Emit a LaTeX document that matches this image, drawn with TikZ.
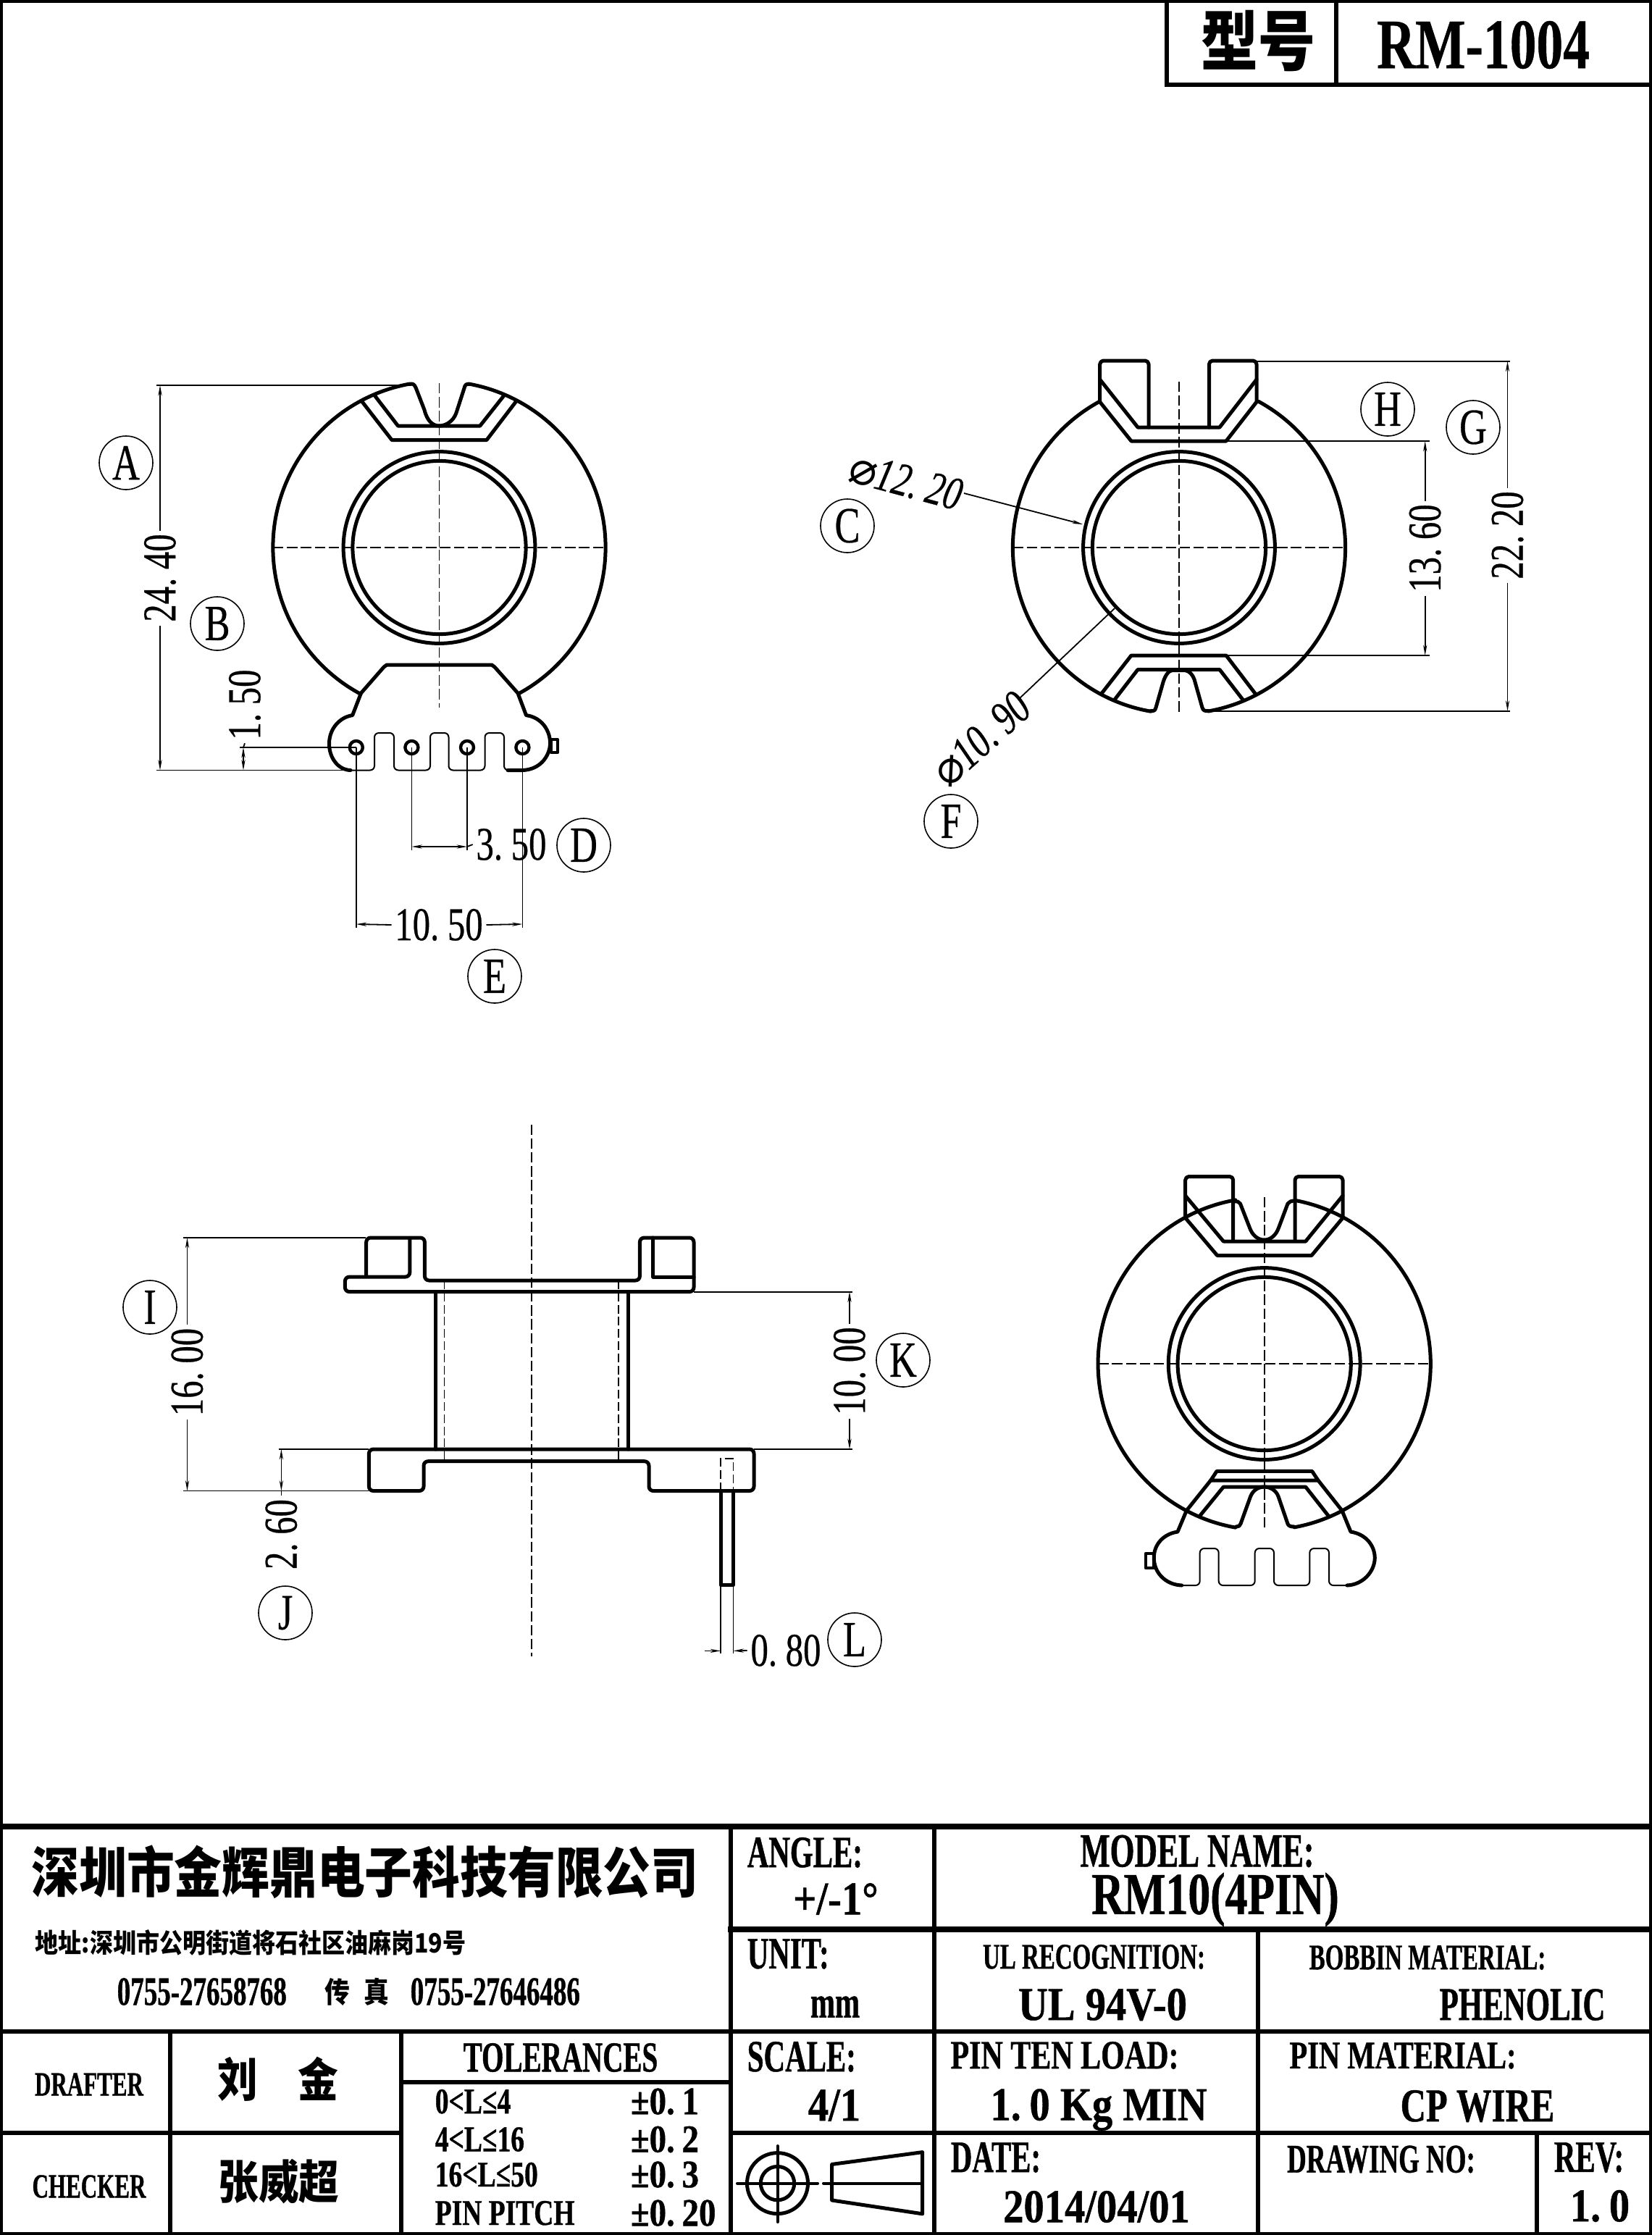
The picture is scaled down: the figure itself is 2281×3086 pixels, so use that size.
\documentclass[tikz,border=0pt]{standalone}
\usepackage{fontspec}
\usetikzlibrary{arrows.meta}
\newfontfamily\dimfont[FakeStretch=0.75,FakeBold=0.4]{Liberation Serif}
\newfontfamily\tblfont[FakeStretch=0.66,FakeBold=0.7]{Liberation Serif}
\newfontfamily\tblmid[FakeStretch=0.75,FakeBold=0.7]{Liberation Serif}
\newfontfamily\tblnum[FakeStretch=0.87,FakeBold=0.7]{Liberation Serif}
\newfontfamily\cjk[FakeStretch=0.87]{Noto Sans CJK SC}
\newfontfamily\symfont{DejaVu Sans}
\newcommand{\fsz}[1]{\fontsize{#1}{#1}\selectfont}
\newcommand{\dimnum}[2]{#1.\kern0.18em #2}
\begin{document}
\begin{tikzpicture}[
                x=0.25pt, y=-0.25pt,
                every node/.style={inner sep=1pt},
                outline/.style={line width=1.25pt, line cap=round, line join=round},
                combline/.style={line width=0.5pt},
                dimline/.style={line width=0.45pt},
                hidden/.style={line width=0.4pt, dash pattern=on 3pt off 1.2pt},
                centerdash/.style={line width=0.45pt, dash pattern=on 3.6pt off 1.2pt},
                dimtip/.style={-{Stealth[length=3.6pt,width=1.3pt]}},
                dimtips/.style={{Stealth[length=3.6pt,width=1.3pt]}-{Stealth[length=3.6pt,width=1.3pt]}},
                dimtext/.style={font=\dimfont\fsz{16.25}},
                callout/.style={circle, draw, line width=0.4pt, minimum size=18.5pt, inner sep=0pt, font=\dimfont\fsz{17.5}},
                pinhole/.style={circle, draw, line width=1.1pt, minimum size=4.5pt, inner sep=0pt},
                rule/.style={line width=1.5pt},
                tblhead/.style={font=\tblfont\bfseries\fsz{15.5}},
                tblsmall/.style={font=\tblfont\bfseries\fsz{12.5}},
                tblmidsmall/.style={font=\tblmid\bfseries\fsz{13.5}},
                tblvalue/.style={font=\tblfont\bfseries\fsz{16.25}},
                tblmidvalue/.style={font=\tblmid\bfseries\fsz{16.25}},
                tblnumvalue/.style={font=\tblnum\bfseries\fsz{16.25}},
                limitcell/.style={font=\tblmid\bfseries\fsz{12.5}, anchor=west},
                tolcell/.style={font=\tblnum\bfseries\fsz{13.5}, anchor=west}
            ]
                \path[fill=white, use as bounding box] (0,0) rectangle (2281,3086);
                \def\rimrad{57.4pt}

                % Centres of the three round views
                \coordinate (cenA) at (606.5,756);
                \coordinate (cenB) at (1628,756);
                \coordinate (cenD) at (1745.7,1883);
                \foreach \cen in {cenA,cenB,cenD} {
                    \draw[outline] (\cen) circle[radius=33.1pt];
                    \draw[outline] (\cen) circle[radius=29.9pt];
                    \draw[centerdash] (\cen) ++(-\rimrad,0) -- ++(114.8pt,0);
                }

                % Top left view
                \draw[outline] (cenA) ++(100.2:\rimrad) arc[start angle=100.2, end angle=241.8, radius=\rimrad];
                \draw[outline] (cenA) ++(-61.4:\rimrad) arc[start angle=-61.4, end angle=79.8, radius=\rimrad];
                \draw[outline] (566,530.5) .. controls (570,529) and (572,531) .. (574,535) -- (586,566) .. controls (590,582) and (598,588) .. (606.5,588) .. controls (615,588) and (626,582) .. (630,570) -- (641,536) .. controls (642,531) and (644,530) .. (647.5,530.5);
                \draw[outline] (499.5,554) -- (541,607.5) -- (672,607.5) -- (712.8,554);
                \draw[outline] (518,547) -- (549.5,588) -- (662.8,588) -- (696,546);
                \draw[outline] (484,1063.5) .. controls (466,1063) and (454,1045) .. (454.5,1026) .. controls (455,1005) and (470,990) .. (486.7,987.6) -- (498.5,957) -- (530,921) -- (534,918) -- (679,918) -- (683,921) -- (715,957) -- (726.5,987.6) .. controls (745,990) and (759,1005) .. (759.7,1026) .. controls (759,1045) and (745,1063) .. (721,1063.5) -- (701,1063.5);
                \draw[combline, rounded corners=1.5pt] (484,1063.5) -- (517,1063.5) -- (517,1012) -- (544,1012) -- (544,1063.5) -- (594,1063.5) -- (594,1012) -- (619.5,1012) -- (619.5,1063.5) -- (669.5,1063.5) -- (669.5,1012) -- (696,1012) -- (696,1063.5) -- (705,1063.5);
                \draw[outline, line width=1pt] (760.7,1021) rectangle (770,1039);
                \foreach \i/\hx in {1/491.8,2/568.4,3/645,4/721.4} {
                    \node[pinhole] (hole\i) at (\hx,1032) {};
                }
                \draw[centerdash] (606.5,529) -- (606.5,977);

                % Dimensions of the top left view
                \node[dimtext, rotate=90] (dimA) at (221,798) {\dimnum{24}{40}};
                \draw[dimline] (216,532) -- (566,532);
                \draw[dimline] (216,1063.5) -- (487,1063.5);
                \draw[dimline, dimtip] (dimA.east) -- (221,532);
                \draw[dimline, dimtip] (dimA.west) -- (221,1063.5);
                \node[dimtext, rotate=90] (dimB) at (338,973) {\dimnum{1}{50}};
                \draw[dimline] (331,1032) -- (hole1.center);
                \draw[dimline] (dimB.west) -- (336,1032);
                \draw[dimline, dimtips] (336,1032) -- (336,1063.5);
                \node[dimtext] (dimD) at (706,1166) {\dimnum{3}{50}};
                \draw[dimline] (hole2.center) -- (568.4,1174);
                \draw[dimline] (hole3.center) -- (645,1174);
                \draw[dimline, dimtips] (568.4,1169) -- (645,1169);
                \draw[dimline] (645,1169) -- (dimD.west);
                \node[dimtext] (dimE) at (606,1277) {\dimnum{10}{50}};
                \draw[dimline] (hole1.center) -- (491.8,1281);
                \draw[dimline] (hole4.center) -- (721.4,1281);
                \draw[dimline, dimtip] (dimE.west) -- (491.8,1276);
                \draw[dimline, dimtip] (dimE.east) -- (721.4,1276);

                % Top right view
                \draw[outline] (cenB) ++(118.5:\rimrad) arc[start angle=118.5, end angle=260.2, radius=\rimrad];
                \draw[outline] (cenB) ++(-79.8:\rimrad) arc[start angle=-79.8, end angle=61.5, radius=\rimrad];
                \draw[outline, rounded corners=1.2pt] (1518.7,555) -- (1518.7,498) -- (1586,498) -- (1586,590);
                \draw[outline, rounded corners=1.2pt] (1669.5,590) -- (1669.5,498) -- (1735,498) -- (1735,555);
                \draw[outline] (1518.7,555) -- (1562,609) -- (1693,609) -- (1735,555);
                \draw[outline] (1518.7,524) -- (1571,590) -- (1684,590) -- (1735,524);
                \draw[outline] (1521,957.5) -- (1562,905) -- (1693,905) -- (1733,957.5);
                \draw[outline] (1539,966) -- (1571,924.5) -- (1684,924.5) -- (1716,966);
                \draw[outline] (1589,981.6) .. controls (1593,982) and (1595,981) .. (1596,977) -- (1606,942) .. controls (1609,932) and (1614,925.5) .. (1619,925.5) -- (1636,925.5) .. controls (1642,926) and (1647,932) .. (1649,938) -- (1660,977) .. controls (1661,981) and (1664,982) .. (1668,981.6);
                \draw[centerdash] (1628,526.5) -- (1628,986);

                % Dimensions of the top right view
                \node[dimtext, rotate=90] (dimG) at (2081.5,739) {\dimnum{22}{20}};
                \draw[dimline] (1735,498.8) -- (2085,498.8);
                \draw[dimline] (1668,981.6) -- (2085,981.6);
                \draw[dimline, dimtip] (dimG.east) -- (2081.5,498.8);
                \draw[dimline, dimtip] (dimG.west) -- (2081.5,981.6);
                \node[dimtext, rotate=90] (dimH) at (1967.7,757) {\dimnum{13}{60}};
                \draw[dimline] (1693,609) -- (1974,609);
                \draw[dimline] (1693,905) -- (1974,905);
                \draw[dimline, dimtip] (dimH.east) -- (1967.7,609);
                \draw[dimline, dimtip] (dimH.west) -- (1967.7,905);
                \node[dimtext, rotate=-15] (dimC) at (1250,664) {\itshape{\symfont\fsz{16}⌀}\dimnum{12}{20}};
                \draw[dimline, dimtip] (1331,681) -- (1495,724);
                \node[dimtext, rotate=42] (dimF) at (1354,1021) {\itshape{\symfont\fsz{16}⌀}\dimnum{10}{90}};
                \draw[dimline] (1408,964) -- (1539,840);

                % Side view
                \draw[outline, rounded corners=1.5pt] (505.7,1763) -- (505.7,1709) -- (586.4,1709) -- (586.4,1768) -- (883.4,1768) -- (883.4,1709) -- (958,1709) -- (958,1783.6) -- (476.4,1783.6) -- (476.4,1763) -- (565.8,1763) -- (565.8,1709);
                \draw[outline] (901.7,1709) -- (901.7,1763) -- (958,1763);
                \draw[outline] (601,1783.6) -- (601,2001);
                \draw[outline] (867.3,1783.6) -- (867.3,2001);
                \draw[outline, rounded corners=1.5pt] (509.4,2001) -- (1041,2001) -- (1041,2058.5) -- (896,2058.5) -- (896,2017.7) -- (585,2017.7) -- (585,2058.5) -- (509.4,2058.5) -- cycle;
                \draw[outline] (995,2058.5) -- (995,2188.5) -- (1012.5,2188.5) -- (1012.5,2058.5);
                \draw[hidden] (995,2058.5) -- (995,2014) -- (1012.5,2014) -- (1012.5,2058.5);
                \draw[hidden] (613.5,1768) -- (613.5,2017.7);
                \draw[hidden] (854,1768) -- (854,2017.7);
                \draw[centerdash] (733.8,1552.5) -- (733.8,2287);

                % Dimensions of the side view
                \node[dimtext, rotate=90] (dimI) at (258.5,1894.5) {\dimnum{16}{00}};
                \draw[dimline] (252.7,1709) -- (505,1709);
                \draw[dimline] (252.7,2058.5) -- (509,2058.5);
                \draw[dimline, dimtip] (dimI.east) -- (258.5,1709);
                \draw[dimline, dimtip] (dimI.west) -- (258.5,2058.5);
                \node[dimtext, rotate=90] (dimK) at (1173,1893) {\dimnum{10}{00}};
                \draw[dimline] (958,1783.6) -- (1176.7,1783.6);
                \draw[dimline] (1041,2001) -- (1176.7,2001);
                \draw[dimline, dimtip] (dimK.east) -- (1173,1783.6);
                \draw[dimline, dimtip] (dimK.west) -- (1173,2001);
                \node[dimtext, rotate=90] (dimJ) at (388.4,2118.5) {\dimnum{2}{60}};
                \draw[dimline] (384.7,2001) -- (509.4,2001);
                \draw[dimline, dimtips] (388.4,2001) -- (388.4,2058.5);
                \draw[dimline] (388.4,2058.5) -- (dimJ.east);
                \node[dimtext] (dimL) at (1085,2279) {\dimnum{0}{80}};
                \draw[dimline] (995,2188.5) -- (995,2283);
                \draw[dimline] (1012.5,2188.5) -- (1012.5,2283);
                \draw[dimline, dimtip] (973,2279.4) -- (995,2279.4);
                \draw[dimline, dimtip] (dimL.west) -- (1012.5,2279.4);

                % Bottom right view
                \draw[outline] (cenD) ++(100:\rimrad) arc[start angle=100, end angle=260, radius=\rimrad];
                \draw[outline] (cenD) ++(-79.6:\rimrad) arc[start angle=-79.6, end angle=79.4, radius=\rimrad];
                \draw[outline, rounded corners=1.2pt] (1636.7,1681.6) -- (1636.7,1624.5) -- (1702.7,1624.5) -- (1702.7,1712);
                \draw[outline, rounded corners=1.2pt] (1788,1712) -- (1788,1624.5) -- (1854,1624.5) -- (1854,1681.6);
                \draw[outline] (1636.7,1681.6) -- (1680.7,1733.5) -- (1811,1733.5) -- (1854,1681.6);
                \draw[outline] (1636.7,1651) -- (1689.3,1714) -- (1802.7,1714) -- (1854,1651);
                \draw[outline] (1704,1659) .. controls (1708,1658.5) and (1711,1659) .. (1712.5,1662) -- (1725,1694) .. controls (1729,1706) and (1737,1712) .. (1745.7,1712) .. controls (1754,1712) and (1762,1706) .. (1766,1694) -- (1778,1662) .. controls (1780,1659) and (1783,1658) .. (1788,1658);
                \draw[outline] (1680,2031.4) -- (1811.7,2031.4) -- (1820,2044) -- (1671.7,2044) -- cycle;
                \draw[outline] (1656.7,2093) -- (1689.3,2053) -- (1802.7,2053) -- (1835,2094);
                \draw[outline] (1706.7,2108) .. controls (1710,2108) and (1712,2107) .. (1713,2104) -- (1726.7,2066) .. controls (1730,2058) and (1737,2053) .. (1745.7,2053) .. controls (1754,2053) and (1762,2058) .. (1765,2066) -- (1778,2104) .. controls (1779,2107) and (1782,2108) .. (1787,2108);
                \draw[outline] (1631.7,2189) .. controls (1608,2188) and (1593,2170) .. (1593.3,2151) .. controls (1593,2133) and (1606,2118) .. (1626,2115) -- (1638.3,2085.7) -- (1671.7,2044);
                \draw[outline] (1820,2044) -- (1853,2085.7) -- (1865,2115) .. controls (1885,2118) and (1898,2133) .. (1898.3,2151) .. controls (1898,2170) and (1882,2188) .. (1860,2189);
                \draw[combline, rounded corners=1.5pt] (1631.7,2189) -- (1656.7,2189) -- (1656.7,2138) -- (1682.7,2138) -- (1682.7,2189) -- (1732.7,2189) -- (1732.7,2138) -- (1759,2138) -- (1759,2189) -- (1808.3,2189) -- (1808.3,2138) -- (1835,2138) -- (1835,2189) -- (1860,2189);
                \draw[outline, line width=1pt] (1581.7,2145) rectangle (1593.3,2165);
                \draw[centerdash] (1745.7,1653) -- (1745.7,2112);

                % Circled letters
                \foreach \nm/\tx/\ty in {A/174/639,B/300/861,C/1170/726,D/806/1167,E/683/1348,F/1313/1134,G/2034/590,H/1916/565,I/207/1805,J/394/2227,K/1247/1878,L/1180/2264} {
                    \node[callout] (call\nm) at (\tx,\ty) {\nm};
                }

                % Frame and title block rules
                \draw[line width=1pt] (2,2) rectangle (2279,3084);
                \draw[rule] (1610.6,2) -- (1610.6,117) -- (2279,117);
                \draw[rule] (1845,2) -- (1845,117);
                \draw[line width=2pt] (2,2522) -- (2279,2522);
                \draw[rule, line width=1.8pt] (1005,2664) -- (2279,2664);
                \draw[rule] (2,2804.6) -- (2279,2804.6);
                \draw[rule] (2,2944.7) -- (553.7,2944.7);
                \draw[rule] (1008,2944.7) -- (2279,2944.7);
                \draw[rule] (553.7,2875) -- (1008,2875);
                \draw[rule] (1009,2522) -- (1009,3084);
                \draw[rule] (1290,2522) -- (1290,3084);
                \draw[rule] (1737,2664) -- (1737,3084);
                \draw[rule] (2121.7,2944.7) -- (2121.7,3084);
                \draw[rule] (234.7,2804.6) -- (234.7,3084);
                \draw[rule] (553.7,2804.6) -- (553.7,3084);

                % Model number box
                \node[font=\cjk\bfseries\fsz{22.7}] (typeLabel) at (1737,57) {型号};
                \node[font=\dimfont\bfseries\fsz{24.5}] (typeValue) at (2048,62) {RM-1004};

                % Company block
                \node[font=\cjk\bfseries\fsz{18.9}] (company) at (504,2585) {深圳市金辉鼎电子科技有限公司};
                \node[font=\cjk\bfseries\fsz{9.2}, anchor=west] (address) at (44,2682) {地址:深圳市公明街道将石社区油麻岗19号};
                \node[font=\tblfont\bfseries\fsz{14}, anchor=west] (telNo) at (157,2750) {0755-27658768};
                \node[font=\cjk\bfseries\fsz{10}] (faxLabel) at (493,2750) {传\hspace{5pt}真};
                \node[font=\tblfont\bfseries\fsz{14}, anchor=west] (faxNo) at (562,2750) {0755-27646486};

                % Drafter and checker
                \node[tblsmall, font=\tblfont\bfseries\fsz{11.75}] (drafter) at (123,2878) {DRAFTER};
                \node[tblsmall, font=\tblfont\bfseries\fsz{11.75}] (checker) at (123,3019) {CHECKER};
                \node[font=\cjk\bfseries\fsz{16}] (drafterName) at (384,2871) {刘\hspace{14pt}金};
                \node[font=\cjk\bfseries\fsz{16}] (checkerName) at (385,3012) {张威超};

                % Tolerances
                \node[tblhead, font=\tblfont\bfseries\fsz{14.8}] (tolHead) at (774,2841) {TOLERANCES};
                \foreach \i/\rowy/\lim/\tol in {1/2901.7/{0<L≤4}/{±\dimnum{0}{1}},2/2954/{4<L≤16}/{±\dimnum{0}{2}},3/3002.6/{16<L≤50}/{±\dimnum{0}{3}},4/3055.7/{PIN PITCH}/{±\dimnum{0}{20}}} {
                    \node[limitcell] (limit\i) at (596,\rowy) {\lim};
                    \node[tolcell] (tol\i) at (866,\rowy) {\tol};
                }

                % Right hand cells
                \node[tblhead, anchor=west] (angleHead) at (1027,2558) {ANGLE:};
                \node[tblnumvalue] (angleValue) at (1154,2622) {+/-1°};
                \node[tblhead, font=\tblfont\bfseries\fsz{16.5}] (modelHead) at (1653,2556) {MODEL NAME:};
                \node[tblhead, font=\tblmid\bfseries\fsz{20.5}] (modelValue) at (1678,2623) {RM10(4PIN)};
                \node[tblhead, anchor=west] (unitHead) at (1027,2698) {UNIT:};
                \node[tblhead] (unitValue) at (1153,2771) {mm};
                \node[tblsmall] (ulHead) at (1510.5,2702) {UL RECOGNITION:};
                \node[tblnumvalue] (ulValue) at (1522.5,2768) {UL 94V-0};
                \node[tblsmall] (bobbinHead) at (1971,2703) {BOBBIN MATERIAL:};
                \node[tblvalue] (bobbinValue) at (2102,2768) {PHENOLIC};
                \node[tblhead, anchor=west] (scaleHead) at (1027,2840) {SCALE:};
                \node[tblnumvalue] (scaleValue) at (1152,2907) {4/1};
                \node[tblmidsmall, font=\tblmid\bfseries\fsz{14}] (loadHead) at (1470,2838) {PIN TEN LOAD:};
                \node[tblnumvalue] (loadValue) at (1517,2913) {\dimnum{1}{0} Kg MIN};
                \node[tblmidsmall] (pinHead) at (1937,2838.5) {PIN MATERIAL:};
                \node[tblmidvalue] (pinValue) at (2040,2908) {CP WIRE};
                \node[tblhead, anchor=west] (dateHead) at (1308,2979) {DATE:};
                \node[tblnumvalue] (dateValue) at (1514,3047) {2014/04/01};
                \node[tblsmall, font=\tblfont\bfseries\fsz{14}] (drawHead) at (1907,2981.5) {DRAWING NO:};
                \node[tblhead] (revHead) at (2194,2979) {REV:};
                \node[tblnumvalue] (revValue) at (2209,3046) {\dimnum{1}{0}};

                % Projection symbol
                \draw[outline] (1073.5,3014.6) circle[radius=10.5pt];
                \draw[outline] (1073.5,3014.6) circle[radius=5.8pt];
                \draw[outline, line width=1pt] (1018,3014.6) -- (1129,3014.6);
                \draw[outline, line width=1pt] (1073.5,2963) -- (1073.5,3068);
                \draw[outline] (1148.7,2988.4) -- (1273.7,2971.6) -- (1273.7,3056.8) -- (1148.7,3038) -- cycle;
                \draw[outline, line width=1pt] (1137,3014.6) -- (1273.7,3014.6);
            \end{tikzpicture}
\end{document}
